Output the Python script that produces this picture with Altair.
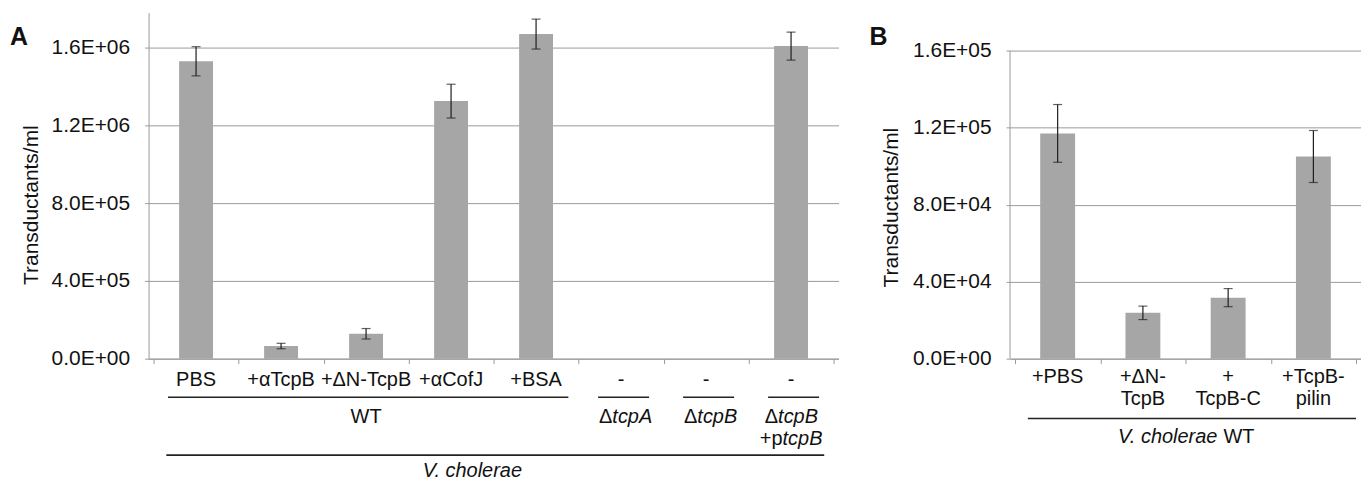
import altair as alt
import pandas as pd

FONT = "Liberation Sans"
GRAY = "#9a9a9a"
BAR = "#a6a6a6"
ERR = "#1e1e1e"
INK = "#111111"

# ---------------- data: panel A ----------------
catsA = ["PBS", "+αTcpB", "+ΔN-TcpB", "+αCofJ", "+BSA", "-", "-", "-"]
valsA = [1.53e6, 6.5e4, 1.28e5, 1.325e6, 1.67e6, 0, 0, 1.608e6]
errA = [7.5e4, 1.4e4, 2.7e4, 8.7e4, 7.7e4, 0, 0, 7.2e4]
yTicksA = [0, 400000, 800000, 1200000, 1600000]
yLabelsA = ["0.0E+00", "4.0E+05", "8.0E+05", "1.2E+06", "1.6E+06"]

# ---------------- data: panel B ----------------
catsB = ["+PBS", "+ΔN-\nTcpB", "+\nTcpB-C", "+TcpB-\npilin"]
valsB = [1.17e5, 2.38e4, 3.17e4, 1.05e5]
errB = [1.5e4, 3.5e3, 4.7e3, 1.35e4]
yTicksB = [0, 40000, 80000, 120000, 160000]
yLabelsB = ["0.0E+00", "4.0E+04", "8.0E+04", "1.2E+05", "1.6E+05"]

YTITLE = "Transductants/ml"

W_A, W_B, H = 692, 352, 347


def label_expr(vals, labels):
    expr = "''"
    for v, l in reversed(list(zip(vals, labels))):
        expr = f"datum.value == {v} ? '{l}' : ({expr})"
    return expr


def make_df(cats, vals, errs):
    return pd.DataFrame({
        "cat": cats,
        "pos": [i + 0.5 for i in range(len(cats))],
        "val": vals,
        "err": errs,
    })


def panel(df, ncat, width, ymax, yticks, ylabels, barsize, letter, show_domain, title_x, title_y):
    xaxis = alt.Axis(values=list(range(ncat + 1)), labels=False, ticks=True, tickSize=5,
                     tickColor=GRAY, domain=True, domainColor=GRAY, grid=False, title=None)
    yaxis = alt.Axis(values=yticks, labelExpr=label_expr(yticks, ylabels), grid=True,
                     gridColor=GRAY, gridWidth=1, tickSize=4, tickColor=GRAY,
                     domain=show_domain, domainColor=GRAY, labelPadding=15,
                     labelFontSize=21, labelFont=FONT, labelColor=INK, title=None)
    xs = alt.Scale(domain=[0, ncat], nice=False, zero=False)
    ys = alt.Scale(domain=[0, ymax], nice=False)

    def X(f):
        return alt.X(f, scale=xs, axis=xaxis)

    def Y(f):
        return alt.Y(f, scale=ys, axis=yaxis)

    base = alt.Chart(df)
    bars = base.mark_bar(size=barsize, color=BAR).encode(x=X("pos:Q"), y=Y("val:Q"))
    eb = base.transform_filter("datum.err > 0").transform_calculate(
        lo="datum.val - datum.err", hi="datum.val + datum.err")
    stem = eb.mark_rule(color=ERR, strokeWidth=1.2).encode(x=X("pos:Q"), y=Y("lo:Q"), y2="hi:Q")
    caps = eb.transform_fold(["lo", "hi"], as_=["k", "e"]).mark_tick(
        orient="horizontal", size=9, thickness=1.2, color=ERR).encode(x=X("pos:Q"), y=Y("e:Q"))
    layers = [bars, stem, caps]
    if not show_domain:
        ax = alt.Chart(pd.DataFrame({"a": [0], "b": [yticks[-1]]})).mark_rule(
            color=GRAY, strokeWidth=1).encode(x=alt.value(0), y=Y("a:Q"), y2="b:Q")
        layers.append(ax)
    title = alt.Chart(pd.DataFrame({"t": [YTITLE]})).mark_text(
        angle=270, font=FONT, fontSize=21, color=INK, align="center", baseline="middle"
    ).encode(text="t:N", x=alt.value(title_x), y=alt.value(title_y))
    let = alt.Chart(pd.DataFrame({"t": [letter]})).mark_text(
        font=FONT, fontSize=25, fontWeight="bold", color=INK, align="left", baseline="middle"
    ).encode(text="t:N", x=alt.value(-139 if letter == "A" else -141), y=alt.value(24))
    layers += [title, let]
    return layers, X


def txt(x, y, text, X, align="center", dx=0, italic=False):
    kw = dict(font=FONT, fontSize=20, color=INK, align=align, baseline="alphabetic", dx=dx)
    if italic:
        kw["fontStyle"] = "italic"
    return alt.Chart(pd.DataFrame({"x": [x], "t": [text]})).mark_text(**kw).encode(
        x=X("x:Q"), y=alt.value(y), text="t:N")


def hline(x1, x2, y, X):
    return alt.Chart(pd.DataFrame({"x1": [x1], "x2": [x2]})).mark_rule(
        color="#222222", strokeWidth=1.6).encode(x=X("x1:Q"), x2="x2:Q", y=alt.value(y))


# ---------------- panel A ----------------
dfA = make_df(catsA, valsA, errA)
layersA, XA = panel(dfA, len(catsA), W_A, 1.78e6, yTicksA, yLabelsA, 34, "A", True, -117, 193)

rowA = alt.Chart(dfA).mark_text(font=FONT, fontSize=20, color=INK, align="center",
                                baseline="alphabetic").encode(
    x=XA("pos:Q"), y=alt.value(374), text="cat:N")
layersA.append(rowA)

# group annotations (first / last category index of each group)
groupStartA = [0, 5, 6, 7]
groupEndA = [4, 5, 6, 7]
for s, e in zip(groupStartA, groupEndA):
    if s == e:
        layersA.append(hline(s + 0.23, e + 0.83, 385.7, XA))
    else:
        layersA.append(hline(s + 0.17, e + 0.88, 385.7, XA))
layersA.append(txt(2.5, 411.3, "WT", XA))
# Δ + italic gene names
for c, g in [(5.55, "tcpA"), (6.55, "tcpB"), (7.5, "tcpB")]:
    layersA.append(txt(c, 411.3, "Δ", XA, align="right", dx=-13))
    layersA.append(txt(c, 411.3, g, XA, align="left", dx=-13, italic=True))
layersA.append(txt(7.5, 433.5, "+p", XA, align="right", dx=-8.5))
layersA.append(txt(7.5, 433.5, "tcpB", XA, align="left", dx=-8.5, italic=True))
layersA.append(hline(0.15, 7.89, 443.7, XA))
layersA.append(txt(3.75, 466, "V. cholerae", XA, italic=True))

chartA = alt.layer(*layersA).properties(width=W_A, height=H)

# ---------------- panel B ----------------
dfB = make_df(catsB, valsB, errB)
layersB, XB = panel(dfB, len(catsB), W_B, 1.797e5, yTicksB, yLabelsB, 35, "B", False, -118, 195.5)
rowB = alt.Chart(dfB).mark_text(font=FONT, fontSize=20, color=INK, align="center",
                                baseline="alphabetic", lineBreak="\n", lineHeight=22).encode(
    x=XB("pos:Q"), y=alt.value(371.3), text="cat:N")
layersB.append(rowB)
layersB.append(hline(0.15, 4.0, 407, XB))
layersB.append(txt(2.0, 431.3, "V. cholerae", XB, align="right", dx=32, italic=True))
layersB.append(txt(2.0, 431.3, "WT", XB, align="left", dx=38))

chartB = alt.layer(*layersB).properties(width=W_B, height=H)

chart = alt.hconcat(chartA, chartB, spacing=172, bounds="flush").properties(
    padding={"left": 2, "top": 4, "right": 0, "bottom": 0}
).configure_view(strokeWidth=0)

chart.save("out.html", embed_options={"renderer": "svg", "actions": False})
